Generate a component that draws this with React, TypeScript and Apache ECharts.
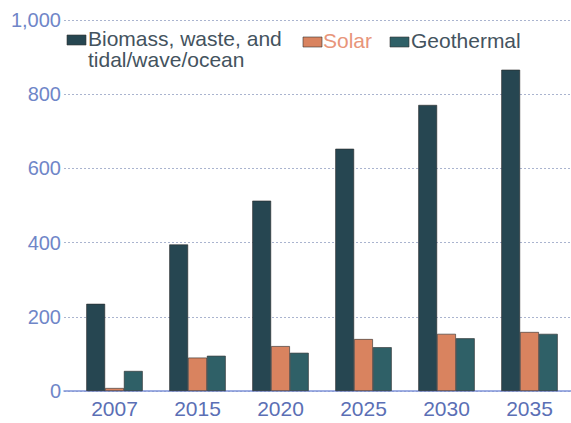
import React, { useEffect, useRef } from "react";
import * as echarts from "echarts";

const categories = ["2007", "2015", "2020", "2025", "2030", "2035"];
const seriesNames = ["Biomass, waste, and\ntidal/wave/ocean", "Solar", "Geothermal"];
const biomass = [235, 395, 513, 653, 771, 866];
const solar = [8, 90, 121, 140, 154, 159];
const geothermal = [54, 95, 103, 118, 142, 154];
const yTicks = [0, 200, 400, 600, 800, 1000];

const colors = ["#264651", "#d9835f", "#2f6067"];
const legendTextColors = ["#44535e", "#e8957a", "#44535e"];

export default function App() {
  const ref = useRef<HTMLDivElement>(null);
  useEffect(() => {
    if (!ref.current) return;
    const chart = echarts.init(ref.current, null, { renderer: "svg" });
    const font = "Liberation Sans, Arial, sans-serif";
    const data = [biomass, solar, geothermal];
    const legendPos = [
      { x: 67, y: 35, tx: 88, ty: 27.5 },
      { x: 303, y: 37, tx: 323, ty: 29.5 },
      { x: 390, y: 37, tx: 411, ty: 29.5 },
    ];
    chart.setOption({
      animation: false,
      grid: [
        { left: 73, right: 0, top: 20, bottom: 32 },
        { left: 64, right: 0, top: 20, bottom: 32 },
      ],
      xAxis: [
        {
          type: "category",
          data: categories,
          gridIndex: 0,
          axisLine: { show: false },
          axisTick: { show: false },
          axisLabel: { color: "#5b6fb5", fontSize: 21, fontFamily: font, margin: 7 },
        },
        {
          type: "value",
          gridIndex: 1,
          min: 0,
          max: 1,
          axisLine: { show: true, onZero: false, lineStyle: { color: "#7f93d8", width: 1.5 } },
          axisTick: { show: false },
          axisLabel: { show: false },
          splitLine: { show: false },
        },
      ],
      yAxis: [
        {
          type: "value",
          gridIndex: 0,
          min: 0,
          max: 1000,
          interval: 200,
          axisLine: { show: false },
          axisTick: { show: false },
          axisLabel: { show: false },
          splitLine: { show: false },
        },
        {
          type: "value",
          gridIndex: 1,
          min: 0,
          max: 1000,
          interval: 200,
          axisLine: { show: false },
          axisTick: { show: false },
          axisLabel: {
            color: "#6f86c8",
            fontSize: 20,
            fontFamily: font,
            margin: 3,
            formatter: (v: number) => (yTicks.includes(v) ? v.toLocaleString("en-US") : ""),
          },
          splitLine: { lineStyle: { color: "#aab4cf", type: [2, 2], width: 1 } },
        },
      ],
      series: data.map((d, i) => ({
        name: seriesNames[i],
        type: "bar",
        xAxisIndex: 0,
        yAxisIndex: 0,
        data: d,
        barGap: "0%",
        barCategoryGap: "32%",
        z: 3,
        itemStyle: { color: colors[i], borderColor: "#2a2a2a", borderWidth: 0.6 },
      })),
      graphic: seriesNames.flatMap((n, i) => [
        {
          type: "rect",
          shape: { x: legendPos[i].x, y: legendPos[i].y, width: 19, height: 10 },
          style: { fill: colors[i], stroke: "#333", lineWidth: 0.6 },
        },
        {
          type: "text",
          x: legendPos[i].tx,
          y: legendPos[i].ty,
          style: {
            text: n,
            fill: legendTextColors[i],
            font: `21px ${font}`,
            lineHeight: 21,
          },
        },
      ]),
    });
    return () => chart.dispose();
  }, []);
  return (
    <div
      ref={ref}
      style={{ position: "absolute", left: 0, top: 0, width: 571, height: 423 }}
    />
  );
}
